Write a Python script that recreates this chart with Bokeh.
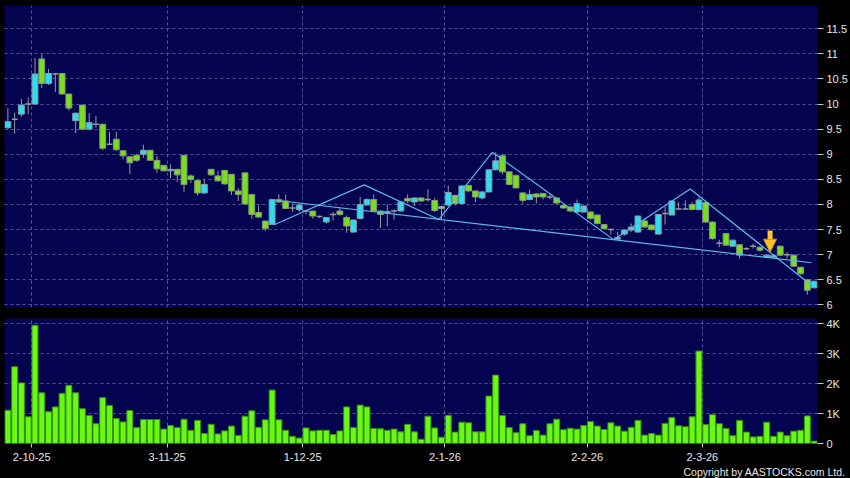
from bokeh.plotting import figure
from bokeh.models import (ColumnDataSource, FixedTicker, Range1d, Grid, Arrow,
                          NormalHead, Title)
from bokeh.layouts import column
from bokeh.embed import file_html
from bokeh.resources import INLINE

# ---------------- data ----------------
opens = [9.53, 9.70, 9.80, 10.00, 10.00, 10.90, 10.41, 10.60, 10.61, 10.20,
         9.67, 9.98, 9.50, 9.60, 9.60, 9.20, 9.30, 9.07, 8.95, 8.98,
         9.00, 9.08, 8.88, 8.78, 8.67, 8.70, 8.98, 8.57, 8.48, 8.23,
         8.70, 8.57, 8.68, 8.60, 8.27, 8.63, 8.20, 7.84, 7.67, 7.60,
         8.10, 8.07, 7.93, 7.90, 7.87, 7.87, 7.76, 7.65, 7.80, 7.87,
         7.74, 7.45, 7.72, 7.99, 8.10, 7.87, 7.83, 7.87, 7.87, 8.12,
         8.05, 8.13, 8.10, 8.08, 7.92, 7.99, 8.18, 8.02, 8.38, 8.27,
         8.13, 8.25, 8.69, 8.97, 8.65, 8.58, 8.23, 8.10, 8.21, 8.22,
         8.15, 8.13, 7.98, 7.95, 7.85, 7.85, 7.85, 7.79, 7.60, 7.50,
         7.31, 7.41, 7.49, 7.45, 7.67, 7.59, 7.41, 7.82, 7.79, 7.91,
         7.91, 8.00, 7.90, 8.04, 7.65, 7.23, 7.42, 7.17, 7.20, 7.12,
         7.17, 7.15, 6.95, 6.95, 7.17, 7.00, 6.99, 6.75, 6.50, 6.34]
closes = [9.65, 9.70, 9.98, 10.00, 10.60, 10.41, 10.61, 10.60, 10.20, 9.92,
          9.82, 9.50, 9.63, 9.60, 9.12, 9.20, 9.09, 8.97, 8.83, 8.88,
          9.08, 8.88, 8.71, 8.67, 8.70, 8.59, 8.40, 8.50, 8.23, 8.40,
          8.59, 8.47, 8.41, 8.27, 8.20, 8.01, 7.80, 7.75, 7.52, 8.10,
          8.05, 7.92, 7.93, 7.99, 7.87, 7.77, 7.76, 7.74, 7.80, 7.80,
          7.57, 7.69, 8.00, 8.10, 7.87, 7.80, 7.86, 7.87, 8.05, 8.07,
          8.13, 8.07, 8.10, 7.88, 7.96, 8.24, 8.02, 8.37, 8.27, 8.15,
          8.25, 8.69, 8.87, 8.65, 8.40, 8.33, 8.08, 8.20, 8.15, 8.15,
          8.15, 8.03, 7.93, 7.87, 8.02, 7.97, 7.72, 7.62, 7.52, 7.50,
          7.34, 7.49, 7.55, 7.77, 7.55, 7.50, 7.80, 7.82, 8.07, 7.91,
          7.91, 7.90, 8.09, 7.65, 7.32, 7.23, 7.19, 7.29, 6.99, 7.12,
          7.17, 7.09, 6.99, 6.98, 6.99, 7.00, 6.77, 6.62, 6.29, 6.47]
highs = [9.92, 9.83, 10.10, 10.13, 10.92, 10.99, 10.70, 10.62, 10.62, 10.20,
         9.83, 9.98, 9.82, 9.77, 9.60, 9.45, 9.45, 9.08, 8.95, 9.00,
         9.19, 9.08, 8.97, 8.78, 8.80, 8.70, 8.98, 8.60, 8.48, 8.50,
         8.70, 8.67, 8.68, 8.60, 8.33, 8.63, 8.20, 7.98, 7.67, 8.10,
         8.20, 8.20, 8.02, 8.02, 7.90, 7.87, 7.78, 7.75, 7.85, 7.94,
         7.78, 7.70, 8.15, 8.12, 8.20, 7.88, 8.00, 7.90, 8.06, 8.20,
         8.14, 8.14, 8.30, 8.13, 7.98, 8.38, 8.20, 8.38, 8.39, 8.28,
         8.27, 8.70, 9.04, 9.00, 8.66, 8.60, 8.25, 8.30, 8.22, 8.23,
         8.20, 8.14, 8.00, 7.96, 8.10, 7.98, 7.86, 7.80, 7.61, 7.52,
         7.45, 7.50, 7.62, 7.78, 7.72, 7.60, 7.81, 7.95, 8.08, 8.05,
         8.08, 8.05, 8.14, 8.06, 7.66, 7.30, 7.43, 7.30, 7.21, 7.15,
         7.22, 7.16, 7.00, 7.00, 7.18, 7.05, 7.00, 6.76, 6.51, 6.48]
lows = [9.50, 9.41, 9.75, 9.80, 10.00, 10.32, 10.38, 10.24, 10.20, 9.87,
        9.42, 9.48, 9.50, 9.53, 9.08, 9.18, 9.07, 8.90, 8.61, 8.85,
        8.93, 8.87, 8.63, 8.66, 8.52, 8.45, 8.25, 8.43, 8.18, 8.21,
        8.58, 8.46, 8.40, 8.19, 8.07, 8.00, 7.72, 7.74, 7.47, 7.60,
        8.03, 7.92, 7.85, 7.85, 7.80, 7.72, 7.73, 7.62, 7.68, 7.78,
        7.44, 7.44, 7.70, 7.98, 7.85, 7.53, 7.57, 7.70, 7.86, 8.03,
        7.97, 8.06, 8.06, 7.85, 7.70, 7.97, 7.98, 8.00, 8.24, 8.05,
        8.10, 8.24, 8.68, 8.60, 8.38, 8.32, 8.02, 8.08, 8.02, 8.10,
        8.10, 8.00, 7.92, 7.85, 7.83, 7.84, 7.70, 7.60, 7.50, 7.40,
        7.29, 7.38, 7.45, 7.44, 7.54, 7.48, 7.40, 7.60, 7.78, 7.90,
        7.90, 7.88, 7.88, 7.64, 7.30, 7.15, 7.18, 7.15, 6.92, 7.10,
        7.12, 7.06, 6.94, 6.94, 6.98, 6.92, 6.76, 6.60, 6.20, 6.33]
volumes_k = [1.11, 2.56, 2.02, 0.89, 3.94, 1.69, 1.06, 1.22, 1.67, 1.94,
             1.69, 1.16, 0.93, 0.66, 1.53, 1.27, 0.83, 0.72, 1.10, 0.53,
             0.80, 0.80, 0.80, 0.48, 0.60, 0.53, 0.81, 0.44, 0.77, 0.33,
             0.64, 0.32, 0.42, 0.58, 0.27, 0.91, 1.09, 0.54, 0.79, 1.78,
             0.79, 0.44, 0.24, 0.18, 0.52, 0.42, 0.44, 0.44, 0.30, 0.42,
             1.22, 0.53, 1.28, 1.22, 0.50, 0.49, 0.44, 0.48, 0.39, 0.64,
             0.39, 0.14, 0.91, 0.52, 0.21, 0.94, 0.38, 0.71, 0.69, 0.39,
             0.39, 1.58, 2.28, 0.93, 0.53, 0.36, 0.66, 0.26, 0.43, 0.28,
             0.66, 0.81, 0.46, 0.51, 0.48, 0.60, 0.73, 0.58, 0.47, 0.69,
             0.58, 0.41, 0.54, 0.77, 0.28, 0.33, 0.28, 0.67, 0.87, 0.59,
             0.56, 0.89, 3.08, 0.63, 0.96, 0.66, 0.50, 0.26, 0.77, 0.38,
             0.22, 0.24, 0.71, 0.24, 0.38, 0.26, 0.41, 0.44, 0.92, 0.08]

# first trading day of each month (bar index) and its label
month_start_idx = [4, 24, 44, 65, 86, 103]
month_labels = ["2-10-25", "3-11-25", "1-12-25", "2-1-26", "2-2-26", "2-3-26"]

price_ticks = [6, 6.5, 7, 7.5, 8, 8.5, 9, 9.5, 10, 10.5, 11, 11.5]
price_tick_labels = ["6", "6.5", "7", "7.5", "8", "8.5", "9", "9.5", "10", "10.5", "11", "11.5"]
vol_ticks = [0, 1, 2, 3, 4]
vol_tick_labels = ["0", "1K", "2K", "3K", "4K"]

# drawn pattern lines (bar index, price)
zigzag_x = [39.4, 52.6, 63.6, 71.5, 89.4, 100.7, 118.6]
zigzag_y = [7.60, 8.39, 7.70, 9.04, 7.30, 8.31, 6.39]
support_x = [39.8, 118.6]
support_y = [8.08, 6.84]

# signal arrow (bar index, tail price, tip price)
arrow_x = 112.5
arrow_tail = 7.48
arrow_tip = 7.05

# ---------------- styling ----------------
BG = "#000000"
PANEL = "#03034F"
GRID = "#55559A"
GREEN = "#78DE1E"
CYAN = "#2CDDF2"
WICK = "#9A9A9A"
VOLF = "#68F815"
VOLL = "#3A8E0C"
TXT = "#E6E6E6"
LINE = "#5CB8EA"
FONT = "Liberation Sans"

N = len(opens)
idx = list(range(N))
tick_pos = [m - 0.5 for m in month_start_idx]

up = dict(x=[], top=[], bottom=[])
dn = dict(x=[], top=[], bottom=[])
dj = dict(x0=[], x1=[], y=[])
for i, (o, c) in enumerate(zip(opens, closes)):
    if c > o:
        up["x"].append(i); up["top"].append(c); up["bottom"].append(o)
    elif c < o:
        dn["x"].append(i); dn["top"].append(o); dn["bottom"].append(c)
    else:
        dj["x0"].append(i - 0.43); dj["x1"].append(i + 0.43); dj["y"].append(o)

x_range = Range1d(-0.5, N - 0.5)


def style_common(fig):
    fig.xgrid.visible = False
    fig.ygrid.grid_line_color = GRID
    fig.ygrid.grid_line_dash = "3 3"
    fig.ygrid.grid_line_width = 1
    g = Grid(dimension=0, ticker=FixedTicker(ticks=tick_pos),
             grid_line_color=GRID, grid_line_dash="3 3", grid_line_width=1)
    fig.add_layout(g)
    ax = fig.yaxis[0]
    ax.axis_line_color = None
    ax.major_tick_out = 6
    ax.major_tick_in = 0
    ax.minor_tick_out = 0
    ax.minor_tick_in = 0
    ax.major_tick_line_color = "#C8C8C8"
    ax.major_label_text_color = TXT
    ax.major_label_text_font = FONT
    ax.major_label_text_font_size = "11px"
    ax.major_label_standoff = 3


# ---------------- price panel ----------------
p = figure(width=850, height=312, x_range=x_range, y_range=Range1d(5.948, 11.964),
           output_backend="svg", toolbar_location=None,
           y_axis_location="right", x_axis_location=None,
           min_border_left=4, min_border_right=33, min_border_top=5, min_border_bottom=5,
           background_fill_color=PANEL, border_fill_color=BG, outline_line_color=None)
p.yaxis.ticker = FixedTicker(ticks=price_ticks)
p.yaxis.major_label_overrides = dict(zip(price_ticks, price_tick_labels))
style_common(p)

p.segment(x0=idx, y0=lows, x1=idx, y1=highs, line_color=WICK, line_width=1)
p.vbar(x="x", top="top", bottom="bottom", width=0.86, source=ColumnDataSource(dn),
       fill_color=GREEN, line_color="#86967E", line_width=1)
p.vbar(x="x", top="top", bottom="bottom", width=0.86, source=ColumnDataSource(up),
       fill_color=CYAN, line_color="#8A9CA0", line_width=1)
p.segment(x0="x0", y0="y", x1="x1", y1="y", source=ColumnDataSource(dj),
          line_color=WICK, line_width=1.5)

p.line(support_x, support_y, line_color=LINE, line_width=1.2)
p.line(zigzag_x, zigzag_y, line_color=LINE, line_width=1.2)

p.add_layout(Arrow(end=NormalHead(size=13, fill_color="#FFC02A", line_color="#D88E14", line_width=1),
                   x_start=arrow_x, y_start=arrow_tail, x_end=arrow_x, y_end=arrow_tip,
                   line_color="#FFC82E", line_width=5))

# ---------------- volume panel ----------------
v = figure(width=850, height=166, x_range=x_range, y_range=Range1d(0, 4.167),
           output_backend="svg", toolbar_location=None,
           y_axis_location="right", x_axis_location="below",
           min_border_left=4, min_border_right=33, min_border_top=6, min_border_bottom=35,
           background_fill_color=PANEL, border_fill_color=BG, outline_line_color=None)
v.yaxis.ticker = FixedTicker(ticks=vol_ticks)
v.yaxis.major_label_overrides = dict(zip(vol_ticks, vol_tick_labels))
style_common(v)

xa = v.xaxis[0]
xa.ticker = FixedTicker(ticks=tick_pos)
xa.major_label_overrides = dict(zip(tick_pos, month_labels))
xa.axis_line_color = None
xa.major_tick_out = 4
xa.major_tick_in = 0
xa.minor_tick_out = 0
xa.minor_tick_in = 0
xa.major_tick_line_color = "#C8C8C8"
xa.major_label_text_color = TXT
xa.major_label_text_font = FONT
xa.major_label_text_font_size = "11px"
xa.major_label_standoff = 5

v.vbar(x=idx, top=volumes_k, bottom=0, width=0.88, fill_color=VOLF, line_color=VOLL, line_width=1)

v.add_layout(Title(text="Copyright by AASTOCKS.com Ltd.", align="right", offset=-28,
                   standoff=0, text_color=TXT, text_font=FONT, text_font_size="10.5px",
                   text_font_style="normal"), "below")

layout = column(p, v, spacing=0)
layout.styles = {"background-color": "#000000"}

tmpl = """{% block postamble %}<style>html, body { margin: 0 !important; padding: 0 !important; background: #000000; overflow: hidden; }</style>{% endblock %}"""
html = file_html(layout, INLINE, "chart", template=tmpl)
open("out.html", "w").write(html)
